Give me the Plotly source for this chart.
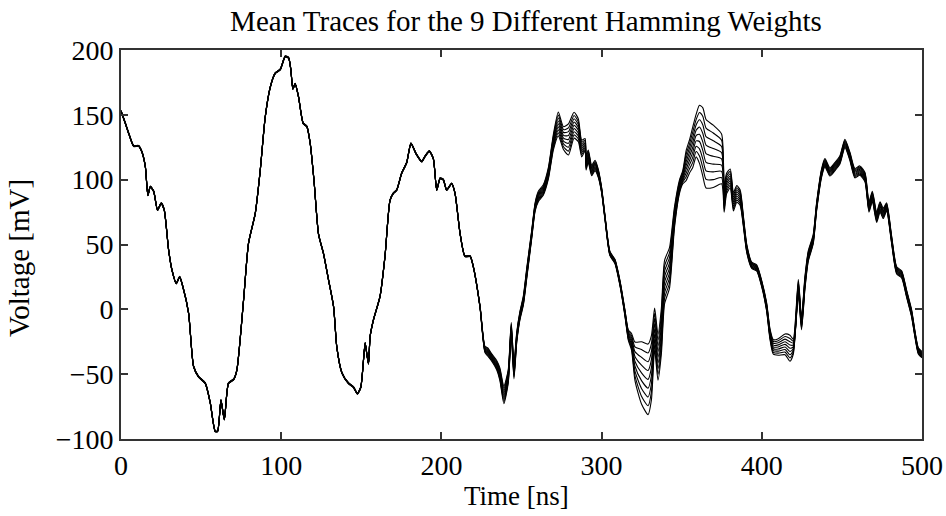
import plotly.graph_objects as go

# Time axis samples [ns]
time_ns = [0, 2.7, 5, 7.9, 11, 13, 15.2, 16.8, 18.3, 20.4, 22.8, 25.1, 27, 29.7, 31.8, 34.5, 36.6, 38.6,
           42.2, 45.3, 48.4, 52.6, 55.7, 58.8, 60.3, 62.4, 64.5, 67.1, 70.3, 72.3, 76.5, 79.6, 83.8, 86.9,
           90, 93.1, 96.2, 99.4, 102.5, 104.6, 106, 107.3, 108.7, 110.8, 113.7, 116, 118.1, 120.5, 123.3,
           126.4, 129.5, 132.7, 134.7, 137.9, 142, 145.1, 147.6, 149.7, 152.4, 153.4, 154.5, 155.5, 157.6,
           161.7, 164.8, 167.9, 170, 172.1, 175.2, 178.3, 181, 184.2, 187.7, 189.8, 192.5, 195, 197.1,
           199.2, 201.2, 203.3, 206.4, 208.5, 211.6, 214.7, 217.9, 219.9, 224.1, 227.2, 229, 231.3, 234.5,
           236.5, 239, 241.7, 243.6, 245.3, 247, 249, 251.2, 253.3, 256.4, 258.5, 260.5, 263.6, 266.8,
           269.9, 273, 276.2, 279.3, 282.8, 285.5, 287.6, 289.7, 290.3, 291.7, 293.8, 295.9, 297.9, 300,
           302.1, 305.2, 308.3, 311.5, 314.6, 316.7, 318.7, 320.8, 324.9, 329, 331.1, 333.1, 335.2, 337.3,
           339.3, 342.4, 345.5, 348.7, 350.7, 352.8, 354.9, 356.9, 359, 361.1, 363.2, 365.2, 369.7, 374.9,
           376.5, 378, 380.3, 382.3, 384.4, 386.5, 388.5, 390.6, 393.7, 396.8, 399.9, 403, 405.1, 407.2,
           410.3, 414.5, 417.6, 419.6, 422.8, 424.8, 426.9, 429, 432.1, 434.2, 437.3, 439.4, 442.5, 445.6,
           448.7, 451.9, 455, 458.1, 461.2, 464.4, 466.9, 469, 471.7, 473.8, 475.8, 477.9, 481, 484.2,
           487.3, 490.4, 493.5, 495.6, 497.7, 500]

# Mid (Hamming weight 4) mean trace [mV]
mid_mv = [153, 143.5, 135, 126, 126, 121.6, 110, 88, 94.6, 91, 76.6, 81.8, 76.6, 46, 30.4, 20, 25, 17.5,
          -3, -44, -52, -57, -72, -94, -94, -70, -85, -57, -54, -47, 7, 51, 74, 107,
          148, 171, 182, 185, 195, 194, 185, 170, 174, 164, 143.5, 141, 128, 99, 58,
          43, 23, 2, -29, -49, -57, -60, -65, -60, -26, -34, -42, -21, -8,
          10, 41, 84, 89.5, 92, 105, 113, 128, 120, 114, 118, 122, 116, 92,
          101, 100, 92, 97, 89.5, 59, 41, 41, 33, 2, -31, -33, -37, -43,
          -50, -66, -52, -15, -48, -22, -5, 7, 28, 58, 79, 87, 92, 105,
          129, 143, 132, 131, 142, 138, 124, 127, 113, 118, 107, 111, 105, 92,
          71, 43, 37, 20, -3, -20, -25, -40, -49, -54, -45, -15, -37, -17,
          21, 32, 71, 95, 102, 111, 118, 125, 134, 135, 129, 120, 118, 116,
          85, 97, 101, 83, 89, 86, 68, 47, 34, 32, 20, 2, -19, -29,
          -29, -27, -30, -29, 17, -11, 20, 41, 54, 79, 105, 113, 106, 110,
          115, 128, 118, 105, 107, 102, 79, 87, 71, 79, 74, 79, 54, 30,
          27, 12, -3, -19, -32, -35]

# Spread between neighbouring Hamming weights [mV per weight step]
spread_mv = [0.1] * 86 + [0.2, 0.6, 0.8, 0.7, 0.9,
             1.2, 1.7, 1.3, 1.2, 1.4, 1.0, 0.8, 0.9, 1.0, 0.8, 0.8, 1.0, 1.0, 1.1,
             1.5, 2.3, 2.2, 3.0, 2.5, 2.2, 1.6, 1.2, 1.4, 1.2, 1.0, 1.0, 0.8, 0.5,
             0.4, 0.4, 0.4, 0.5, 0.6, 1.0, 1.6, 3.7, 6.0, 6.8, 6.2, 4.0, 4.4, 4.4,
             4.2, 3.9, 2.0, 1.3, 1.3, 2.9, 3.2, 3.9, 4.1, 5.6, 6.6, 6.6, 6.0, 4.8,
             2.5, 2.0, 1.8, 1.8, 1.6, 1.5, 1.0, 0.8, 0.6, 0.6, 0.6, 0.8, 1.0, 1.4,
             1.6, 2.0, 2.5, 1.5, 1.5, 1.2, 1.2, 1.0, 0.9, 0.8, 0.8, 0.8, 0.8, 0.8,
             0.8, 0.8, 0.8, 0.9, 0.9, 0.9, 1.0, 1.0, 1.0, 1.0, 1.0, 0.8, 0.7, 0.7,
             0.7, 0.7, 0.7, 0.6, 0.6, 0.6]

hamming_weights = list(range(9))

n = min(len(time_ns), len(mid_mv), len(spread_mv))
fig = go.Figure()
for hw in hamming_weights:
    ys = [mid_mv[i] + (hw - 4) * spread_mv[i] for i in range(n)]
    fig.add_trace(go.Scatter(x=time_ns[:n], y=ys, mode="lines",
                             line=dict(color="black", width=1.1, shape="spline", smoothing=0.6),
                             name=f"HW {hw}", showlegend=False, hoverinfo="skip"))

font = "Liberation Serif, Times New Roman, serif"
axis_common = dict(showline=True, linecolor="#333", linewidth=1.8, mirror="ticks",
                   ticks="inside", ticklen=7, tickwidth=1.5, tickcolor="#333",
                   showgrid=False, zeroline=False, automargin=False,
                   tickfont=dict(family=font, size=28, color="black"))

L, R, T, B = 121, 24, 50, 77
W, H = 946, 516
pw, ph = W - L - R, H - T - B

fig.update_layout(
    template="none",
    width=W, height=H,
    margin=dict(l=L, r=R, t=T, b=B, pad=0),
    paper_bgcolor="white", plot_bgcolor="white",
    title=dict(text="Mean Traces for the 9 Different Hamming Weights",
               xref="paper", x=(526 - L) / pw, xanchor="center",
               yref="container", y=1 - 21 / H, yanchor="middle",
               font=dict(family=font, size=29, color="black")),
    xaxis=dict(range=[0, 500], tick0=0, dtick=100, **axis_common),
    yaxis=dict(range=[-100, 200], tick0=-100, dtick=50, **axis_common),
    annotations=[
        dict(text="Voltage [mV]", xref="paper", yref="paper", textangle=-90,
             x=(19 - L) / pw, y=((T + ph) - 258) / ph, xanchor="center", yanchor="middle",
             showarrow=False, font=dict(family=font, size=29, color="black")),
        dict(text="Time [ns]", xref="paper", yref="paper",
             x=(516 - L) / pw, y=-(496 - (T + ph)) / ph, xanchor="center", yanchor="middle",
             showarrow=False, font=dict(family=font, size=27, color="black")),
    ],
    showlegend=False,
)

fig.write_html("out.html")
